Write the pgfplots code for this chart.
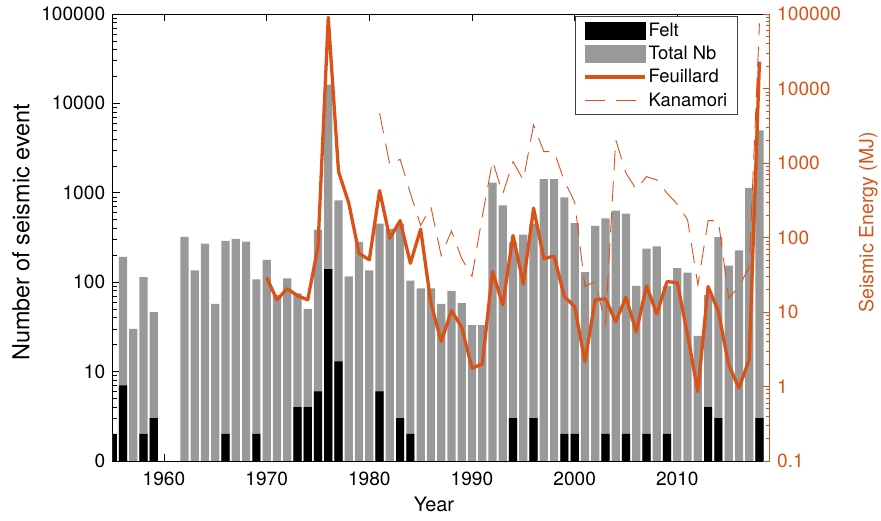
\documentclass[border=0pt]{standalone}
\usepackage{fontspec}
\setmainfont{TeX Gyre Heros}
\usepackage{pgfplots}
\usepackage{pgfplotstable}
\pgfplotsset{compat=1.18}
\definecolor{mOrange}{rgb}{0.85,0.325,0.098}
\definecolor{mGray}{RGB}{153,153,153}

\pgfplotstableread{
year total
1955 2
1956 191
1957 30
1958 114
1959 46
1962 320
1963 135
1964 269
1965 57
1966 289
1967 304
1968 283
1969 107
1970 177
1971 72
1972 110
1973 75
1974 50
1975 386
1976 16200
1977 822
1978 116
1979 281
1980 135
1981 451
1982 393
1983 451
1984 104
1985 85
1986 85
1987 57
1988 80
1989 58
1990 33
1991 33
1992 1300
1993 720
1994 279
1995 340
1996 450
1997 1420
1998 1420
1999 890
2000 457
2001 129
2002 426
2003 517
2004 630
2005 585
2006 91
2007 237
2008 251
2009 91
2010 143
2011 128
2012 25
2013 72
2014 318
2015 153
2016 226
2017 1130
2018 4970
}\totaltable

\pgfplotstableread{
year felt
1955 2
1956 7
1958 2
1959 3
1966 2
1969 2
1973 4
1974 4
1975 6
1976 140
1977 13
1981 6
1983 3
1984 2
1994 3
1996 3
1999 2
2000 2
2003 2
2005 2
2007 2
2009 2
2013 4
2014 3
2018 3
}\felttable

\pgfplotstableread{
year energy
1970 29
1971 14.5
1972 20.5
1973 16.5
1974 14.5
1975 75
1976 90000
1977 764
1978 288
1979 61
1980 50
1981 425
1982 97.5
1983 168
1984 45
1985 129
1986 13.1
1987 4.0
1988 10.4
1989 6.2
1990 1.75
1991 2.0
1992 35
1993 12.4
1994 106
1995 23.8
1996 247
1997 52
1998 56
1999 16
2000 11.8
2001 2.15
2002 14.5
2003 15
2004 7.4
2005 15.7
2006 5.4
2007 22.3
2008 9.4
2009 25.5
2010 24.7
2011 4.9
2012 0.85
2013 21.9
2014 10.1
2015 1.95
2016 0.95
2017 2.27
2018 22900
}\feuillard

\pgfplotstableread{
year energy
1981 4650
1982 940
1983 1120
1984 390
1985 145
1986 256
1987 57
1988 122
1989 52
1990 30
1991 190
1992 1065
1993 384
1994 1040
1995 590
1996 3240
1997 1420
1998 1420
1999 570
2000 300
2001 22
2002 25.5
2003 7.0
2004 2040
2005 727
2006 443
2007 655
2008 591
2009 392
2010 280
2011 172
2012 23
2013 168
2014 168
2015 15.3
2016 21.9
2017 40
2018 75000
}\kanamori

\begin{document}
\begin{tikzpicture}
\begin{axis}[
  scale only axis, width=657.3bp, height=447bp,
  xmin=1955, xmax=2019,
  ymode=log, ymin=1, ymax=100000,
  tick align=inside,
  major tick length=7bp, minor tick length=4bp,
  /pgf/number format/assume math mode=true,
  tick label style={font=\fontsize{19.2}{22}\selectfont},
  xtick={1960,1970,1980,1990,2000,2010},
  xticklabel style={/pgf/number format/1000 sep={}, yshift=-8bp},
  ytick={1,10,100,1000,10000,100000},
  yticklabels={0,10,100,1000,10000,100000},
  yticklabel style={xshift=-4bp},
  minor ytick={2,3,4,5,6,7,8,9,20,30,40,50,60,70,80,90,200,300,400,500,600,700,800,900,2000,3000,4000,5000,6000,7000,8000,9000,20000,30000,40000,50000,60000,70000,80000,90000},
  ytick pos=left,
  tick style={black, line width=0.6bp},
  axis line style={black, line width=0.6bp},
  xlabel={Year},
  ylabel={Number of seismic event},
  xlabel style={font=\fontsize{20}{24}\selectfont, at={(axis description cs:0.489,-0.0984)}, anchor=center},
  ylabel style={font=\fontsize{23.5}{28}\selectfont, at={(axis description cs:-0.1394,0.511)}, anchor=center},
]
\addplot[ybar, bar width=0.8, bar shift=0pt, fill=mGray, draw=none] table[x=year,y=total]{\totaltable};
\addplot[ybar, bar width=0.8, bar shift=0pt, fill=black, draw=none] table[x=year,y=felt]{\felttable};
\end{axis}

\begin{axis}[
  scale only axis, width=657.3bp, height=447bp,
  xmin=1955, xmax=2019,
  ymode=log, ymin=0.1, ymax=100000,
  tick align=inside,
  major tick length=7bp, minor tick length=4bp,
  /pgf/number format/assume math mode=true,
  tick label style={font=\fontsize{19.2}{22}\selectfont},
  axis x line=none,
  axis y line*=right,
  y axis line style={-, draw=mOrange, line width=0.6bp},
  ytick={0.1,1,10,100,1000,10000,100000},
  yticklabels={0.1,1,10,100,1000,10000,100000},
  minor ytick={0.2,0.3,0.4,0.5,0.6,0.7,0.8,0.9,2,3,4,5,6,7,8,9,20,30,40,50,60,70,80,90,200,300,400,500,600,700,800,900,2000,3000,4000,5000,6000,7000,8000,9000,20000,30000,40000,50000,60000,70000,80000,90000},
  y tick style={mOrange, line width=0.6bp},
  minor y tick style={mOrange, line width=0.6bp},
  yticklabel style={text=mOrange, xshift=4bp},
  ylabel={Seismic Energy (MJ)},
  ylabel style={font=\fontsize{19.6}{24}\selectfont, text=mOrange, at={(axis description cs:1.1500,0.5336)}, anchor=center},
  legend image code/.code={\draw[#1] (0bp,0bp) -- (60bp,0bp);},
  legend cell align=left,
  legend style={at={(0.951,0.996)}, anchor=north east, draw=black!75, line width=0.6bp,
    font=\fontsize{18.5}{22}\selectfont, row sep=4.3bp, inner xsep=8bp, inner ysep=5bp},
]
\addlegendimage{legend image code/.code={\fill[black] (0bp,-8.5bp) rectangle (60bp,8.5bp);}}
\addlegendentry{Felt}
\addlegendimage{legend image code/.code={\fill[mGray] (0bp,-8.5bp) rectangle (60bp,8.5bp);}}
\addlegendentry{Total Nb}
\addplot[mOrange, line width=3.3bp, line join=round] table[x=year,y=energy]{\feuillard};
\addlegendentry{Feuillard}
\addplot[mOrange, line width=0.9bp, dash pattern=on 20bp off 11bp] table[x=year,y=energy]{\kanamori};
\addlegendentry{Kanamori}
\end{axis}
\path (-112.7bp,-60bp) rectangle (768.3bp,461bp);
\end{tikzpicture}
\end{document}
